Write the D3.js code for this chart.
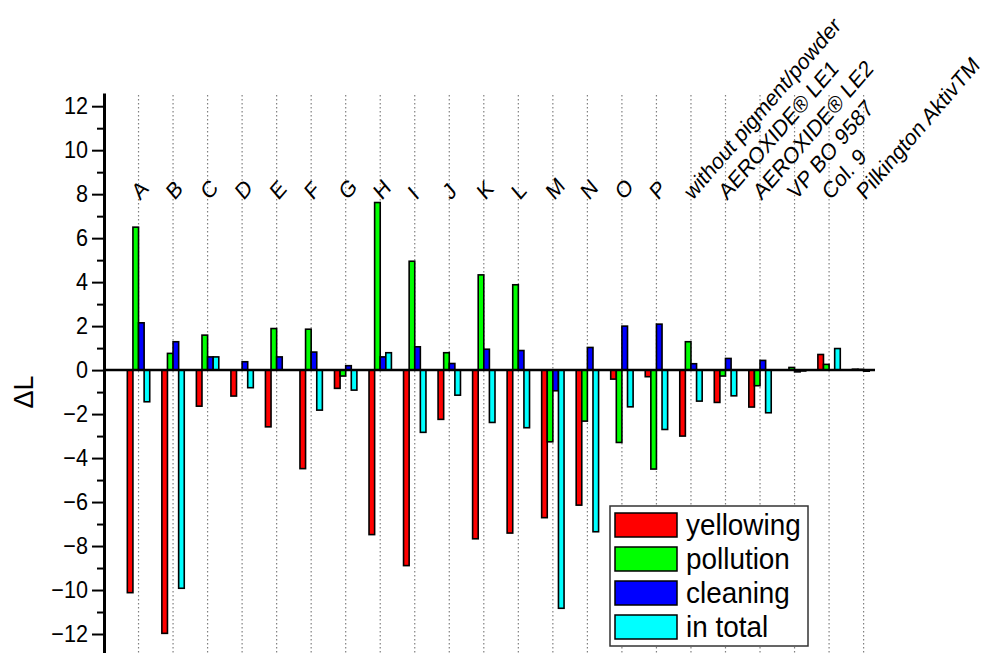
<!DOCTYPE html>
<html>
<head>
<meta charset="utf-8">
<script src="https://cdn.jsdelivr.net/npm/d3@7"></script>
<style>
  html, body { margin: 0; padding: 0; background: #fff; }
  svg { display: block; font-family: "Liberation Sans", Arial, sans-serif; }
</style>
</head>
<body>
<svg id="chart" width="983" height="653"></svg>
<script>
// Samples along the x axis
const categories = ["A", "B", "C", "D", "E", "F", "G", "H", "I", "J", "K", "L", "M", "N", "O", "P",
  "without pigment/powder", "AEROXIDE® LE1", "AEROXIDE® LE2", "VP BO 9587", "Col. 9", "Pilkington AktivTM"];

// ΔL per sample for each series
const yellowing = [-10.12, -11.97, -1.64, -1.18, -2.58, -4.48, -0.83, -7.48, -8.89, -2.24, -7.67, -7.41,
  -6.71, -6.14, -0.41, -0.30, -3.00, -1.47, -1.68, 0.00, 0.71, 0.04];
const pollution = [6.50, 0.76, 1.59, 0.00, 1.89, 1.86, -0.27, 7.62, 4.95, 0.79, 4.33, 3.88,
  -3.26, -2.32, -3.29, -4.50, 1.29, -0.27, -0.71, 0.12, 0.26, 0.03];
const cleaning = [2.15, 1.29, 0.60, 0.38, 0.60, 0.82, 0.20, 0.60, 1.06, 0.30, 0.95, 0.89,
  -0.94, 1.03, 2.00, 2.09, 0.29, 0.53, 0.44, -0.08, 0.00, -0.05];
const inTotal = [-1.44, -9.92, 0.60, -0.80, 0.00, -1.82, -0.91, 0.79, -2.83, -1.14, -2.38, -2.62,
  -10.83, -7.35, -1.67, -2.70, -1.41, -1.17, -1.94, -0.04, 0.98, 0.00];

const seriesNames = ["yellowing", "pollution", "cleaning", "in total"];
const seriesColors = ["#ff0000", "#00ff00", "#0000ff", "#00ffff"];
const seriesValues = [yellowing, pollution, cleaning, inTotal];

const majorTicks = [-12, -10, -8, -6, -4, -2, 0, 2, 4, 6, 8, 10, 12];
const minorTicks = [-13, -11, -9, -7, -5, -3, -1, 1, 3, 5, 7, 9, 11];

const svg = d3.select("#chart");

const y = d3.scaleLinear().domain([-12.9, 12.6]).range([653.8, 93]);
const x = d3.scaleLinear().domain([0, 22.33]).range([104, 875]);
const barW = 5.6;

// vertical dotted guide lines at each sample
svg.append("g").selectAll("line")
  .data(categories)
  .join("line")
  .attr("x1", (d, i) => x(i + 1)).attr("x2", (d, i) => x(i + 1))
  .attr("y1", 95).attr("y2", 653)
  .attr("stroke", "#808080")
  .attr("stroke-width", 1.2)
  .attr("stroke-dasharray", "1.4,2.6");

// grouped bars
const rows = [];
categories.forEach((c, i) => {
  seriesValues.forEach((vals, s) => rows.push({ i, s, v: vals[i] }));
});
svg.append("g").selectAll("rect")
  .data(rows)
  .join("rect")
  .attr("x", d => x(d.i + 1) - 2 * barW + d.s * barW)
  .attr("width", barW)
  .attr("y", d => Math.min(y(d.v), y(0)))
  .attr("height", d => Math.abs(y(d.v) - y(0)))
  .attr("fill", d => seriesColors[d.s])
  .attr("stroke", "#000")
  .attr("stroke-width", 1.6);

// zero line
svg.append("line")
  .attr("x1", x(0)).attr("x2", x(22.33))
  .attr("y1", y(0)).attr("y2", y(0))
  .attr("stroke", "#000").attr("stroke-width", 2.5);

// y axis: minor then major ticks
const minorAxis = svg.append("g").attr("transform", `translate(${x(0)},0)`)
  .call(d3.axisLeft(y).tickValues(minorTicks).tickSize(7).tickSizeOuter(0).tickFormat(""));
minorAxis.select(".domain").remove();
minorAxis.selectAll(".tick line").attr("stroke-width", 2);

const majorAxis = svg.append("g").attr("transform", `translate(${x(0)},0)`)
  .call(d3.axisLeft(y).tickValues(majorTicks).tickSize(12).tickSizeOuter(0)
    .tickFormat(d3.format("d")));
majorAxis.select(".domain").attr("stroke-width", 3);
majorAxis.selectAll(".tick line").attr("stroke-width", 2);
majorAxis.selectAll(".tick text")
  .attr("x", null)
  .attr("transform", "translate(-16,0) scale(0.92,1)")
  .attr("font-size", 23.5)
  .attr("font-family", "'Liberation Sans', Arial, sans-serif")
  .attr("fill", "#000");

// y axis title
svg.append("text")
  .attr("transform", "translate(33,392) rotate(-90)")
  .attr("text-anchor", "middle")
  .attr("font-size", 27)
  .text("ΔL");

// rotated sample names (narrowed glyphs, steep diagonal)
svg.append("g").selectAll("text")
  .data(categories)
  .join("text")
  .attr("transform", (d, i) => `translate(${x(i + 1) + 1.5},201) scale(0.86,1) rotate(-45)`)
  .attr("font-size", 23.3)
  .attr("fill", "#000")
  .text(d => d);

// legend
const legend = svg.append("g");
legend.append("rect")
  .attr("x", 610).attr("y", 506).attr("width", 198).attr("height", 140)
  .attr("fill", "#fff").attr("stroke", "#333").attr("stroke-width", 1.5);
const items = legend.selectAll("g.item")
  .data(seriesNames)
  .join("g")
  .attr("class", "item")
  .attr("transform", (d, i) => `translate(615,${513 + i * 34})`);
items.append("rect")
  .attr("width", 62).attr("height", 24)
  .attr("fill", (d, i) => seriesColors[i])
  .attr("stroke", "#000").attr("stroke-width", 1.5);
items.append("text")
  .attr("transform", "translate(71,22) scale(0.93,1)")
  .attr("font-size", 30)
  .text(d => d);
</script>
</body>
</html>
